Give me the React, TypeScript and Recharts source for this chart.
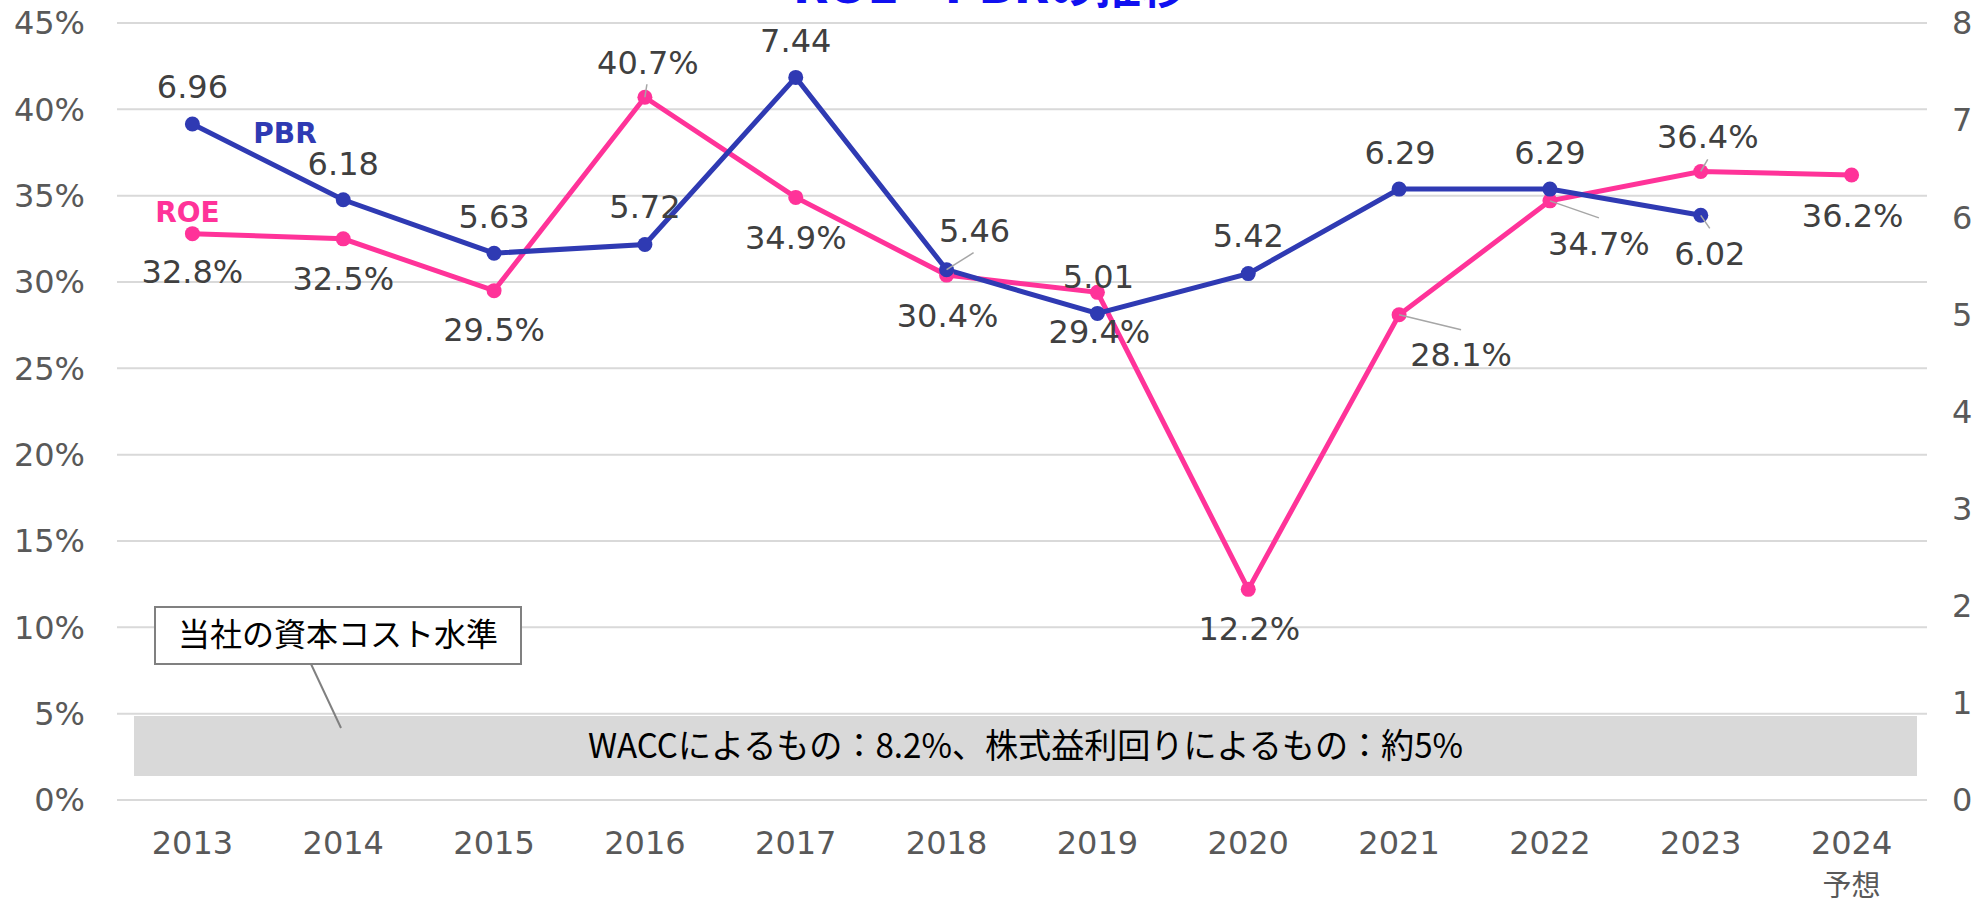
import React from 'react';
import { LineChart, Line, XAxis, YAxis, CartesianGrid, LabelList } from 'recharts';

// ---------- data ----------
const years = ['2013', '2014', '2015', '2016', '2017', '2018', '2019', '2020', '2021', '2022', '2023', '2024'];
const roeValues = [32.8, 32.5, 29.5, 40.7, 34.9, 30.4, 29.4, 12.2, 28.1, 34.7, 36.4, 36.2];
const pbrValues: (number | null)[] = [6.96, 6.18, 5.63, 5.72, 7.44, 5.46, 5.01, 5.42, 6.29, 6.29, 6.02, null];
const roeTicks = [0, 5, 10, 15, 20, 25, 30, 35, 40, 45];
const pbrTicks = [0, 1, 2, 3, 4, 5, 6, 7, 8];
const forecastYear = '2024';
const forecastNote = '予想';
const titleText = 'ROE・PBRの推移';
const roeName = 'ROE';
const pbrName = 'PBR';
const capitalCostTitle = '当社の資本コスト水準';
const capitalCostText = 'WACCによるもの：8.2%、株式益利回りによるもの：約5%';

// ---------- label placement (style config) ----------
type Pos = { dx: number; dy: number; lx?: number; ly?: number };
const roeLabelPos: Pos[] = [
  { dx: 0, dy: 38 },
  { dx: 0, dy: 39.5 },
  { dx: 0, dy: 39 },
  { dx: 3, dy: -35, lx: 2, ly: -13 },
  { dx: 0, dy: 39.5 },
  { dx: 1, dy: 40 },
  { dx: 2, dy: 39 },
  { dx: 1, dy: 39 },
  { dx: 62, dy: 40, lx: 62, ly: 15 },
  { dx: 49, dy: 42, lx: 49, ly: 17 },
  { dx: 7, dy: -35, lx: 7, ly: -12 },
  { dx: 1, dy: 40 },
];
const pbrLabelPos: Pos[] = [
  { dx: 0, dy: -37.5 },
  { dx: 0, dy: -36 },
  { dx: 0, dy: -37 },
  { dx: 0, dy: -38 },
  { dx: 0, dy: -37 },
  { dx: 28, dy: -39, lx: 27, ly: -17 },
  { dx: 1, dy: -37 },
  { dx: 0, dy: -38 },
  { dx: 1, dy: -37 },
  { dx: 0, dy: -37 },
  { dx: 9, dy: 38, lx: 9, ly: 13 },
  { dx: 0, dy: 0 },
];

const ROE_COLOR = '#FF3399';
const PBR_COLOR = '#2F3AB3';
const LABEL_COLOR = '#404040';
const AXIS_COLOR = '#595959';
const NUM_FONT = '"DejaVu Sans", Verdana, sans-serif';
const JP_FONT = '"Noto Sans CJK JP", "Noto Sans CJK SC", sans-serif';
const FS = 32;

const data = years.map((y, i) => ({ year: y, roe: roeValues[i], pbr: pbrValues[i] }));

function makeLabel(pos: Pos[], fmt: (v: number) => string, name: string, color: string, nameOff: { dx: number; dy: number }) {
  return (props: any) => {
    const { index, value } = props;
    const x = props.x ?? props.viewBox?.x;
    const y = props.y ?? props.viewBox?.y;
    if (value === null || value === undefined || x === undefined || y === undefined) return null;
    const p = pos[index] || { dx: 0, dy: 0 };
    return (
      <g>
        {p.lx !== undefined && (
          <line x1={x} y1={y} x2={x + (p.lx as number)} y2={y + (p.ly as number)} stroke="#A6A6A6" strokeWidth={1.5} />
        )}
        <text
          x={x + p.dx}
          y={y + p.dy + FS * 0.365}
          textAnchor="middle"
          fill={LABEL_COLOR}
          fontSize={FS}
          fontFamily={NUM_FONT}
        >
          {fmt(value)}
        </text>
        {index === 0 && (
          <text
            x={x + nameOff.dx}
            y={y + nameOff.dy + 28 * 0.365}
            textAnchor="middle"
            fill={color}
            fontSize={28}
            fontWeight="bold"
            fontFamily={NUM_FONT}
          >
            {name}
          </text>
        )}
      </g>
    );
  };
}

const XTick = (props: any) => {
  const { x, y, payload } = props;
  return (
    <g>
      <text x={x} y={y + 54} textAnchor="middle" fill={AXIS_COLOR} fontSize={FS} fontFamily={NUM_FONT}>
        {payload.value}
      </text>
      {payload.value === forecastYear && (
        <text x={x} y={y + 96} textAnchor="middle" fill={AXIS_COLOR} fontSize={29} fontFamily={JP_FONT}>
          {forecastNote}
        </text>
      )}
    </g>
  );
};

export default function App() {
  return (
    <div style={{ position: 'absolute', left: 0, top: 0, width: 1981, height: 904, background: '#fff' }}>
      <LineChart width={1981} height={904} data={data} margin={{ top: 23, right: 0, bottom: 0, left: 0 }}>
        <CartesianGrid yAxisId="left" vertical={false} stroke="#D9D9D9" strokeWidth={2} />
        <XAxis
          dataKey="year"
          interval={0}
          padding={{ left: 75.4, right: 75.4 }}
          axisLine={false}
          tickLine={false}
          tickSize={0}
          tickMargin={0}
          height={104}
          tick={<XTick />}
        />
        <YAxis
          yAxisId="left"
          domain={[0, 45]}
          ticks={roeTicks}
          width={117}
          axisLine={false}
          tickLine={false}
          tickSize={0}
          tickMargin={32}
          tickFormatter={(v: number) => `${v}%`}
          tick={{ fill: AXIS_COLOR, fontSize: FS, fontFamily: NUM_FONT }}
        />
        <YAxis
          yAxisId="right"
          orientation="right"
          domain={[0, 8]}
          ticks={pbrTicks}
          width={54}
          axisLine={false}
          tickLine={false}
          tickSize={0}
          tickMargin={25}
          tick={{ fill: AXIS_COLOR, fontSize: FS, fontFamily: NUM_FONT }}
        />
        <Line
          yAxisId="left"
          dataKey="roe"
          type="linear"
          stroke={ROE_COLOR}
          strokeWidth={5}
          dot={{ r: 7.5, fill: ROE_COLOR, stroke: ROE_COLOR, strokeWidth: 0 }}
          activeDot={false}
          isAnimationActive={false}
        >
          <LabelList
            dataKey="roe"
            content={makeLabel(roeLabelPos, (v) => `${v.toFixed(1)}%`, roeName, ROE_COLOR, { dx: -5, dy: -21.6 })}
          />
        </Line>
        <Line
          yAxisId="right"
          dataKey="pbr"
          type="linear"
          stroke={PBR_COLOR}
          strokeWidth={5}
          dot={{ r: 7.5, fill: PBR_COLOR, stroke: PBR_COLOR, strokeWidth: 0 }}
          activeDot={false}
          isAnimationActive={false}
        >
          <LabelList
            dataKey="pbr"
            content={makeLabel(pbrLabelPos, (v) => v.toFixed(2), pbrName, PBR_COLOR, { dx: 92.6, dy: 9 })}
          />
        </Line>
      </LineChart>
      <svg
        width={1981}
        height={904}
        style={{ position: 'absolute', left: 0, top: 0, pointerEvents: 'none' }}
      >
        <text
          x={990}
          y={3}
          textAnchor="middle"
          fill="#1010F0"
          fontSize={46}
          fontWeight="bold"
          fontFamily={`"DejaVu Sans", ${JP_FONT}`}
        >
          {titleText}
        </text>
        <rect x={134} y={716} width={1783} height={60} fill="#D9D9D9" />
        <text
          x={1025.5}
          y={746 + 12}
          textAnchor="middle"
          fill="#000"
          fontSize={34}
          fontFamily={JP_FONT}
          textLength={875}
          lengthAdjust="spacingAndGlyphs"
        >
          {capitalCostText}
        </text>
        <line x1={311} y1={664} x2={341} y2={728} stroke="#808080" strokeWidth={2} />
        <rect x={155} y={607} width={366} height={57} fill="#fff" stroke="#808080" strokeWidth={2} />
        <text x={338} y={635 + 11} textAnchor="middle" fill="#000" fontSize={32} fontFamily={JP_FONT}>
          {capitalCostTitle}
        </text>
      </svg>
    </div>
  );
}
